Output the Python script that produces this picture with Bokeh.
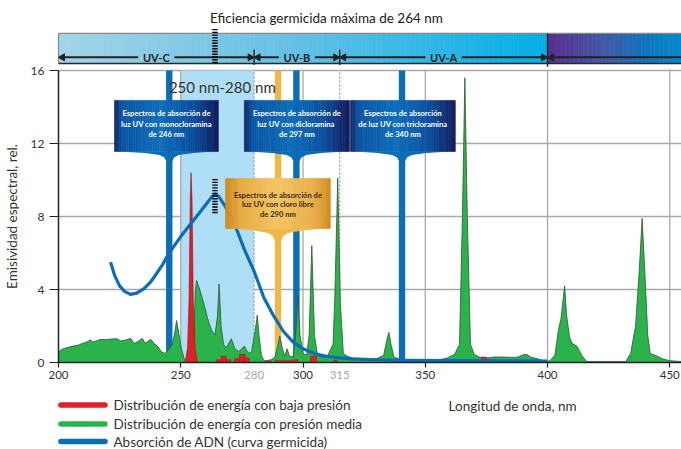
import numpy as np
from bokeh.plotting import figure
from bokeh.models import FixedTicker
from bokeh.core.properties import value
from bokeh.embed import file_html
from bokeh.resources import INLINE

# ---------------- data ----------------
green_nm = [200, 201, 203, 206, 208, 210, 212, 213, 214, 216, 217, 219, 221, 223, 224, 225.5, 227, 229.5,
            231, 232.5, 234.3, 235.5, 237.7, 239, 240.5, 242, 243.5, 245, 246.5, 247.5, 248.3, 249.2, 250.2,
            251.3, 252, 253, 255, 256, 256.5, 258, 259.5, 261, 262.5, 264, 265, 265.7, 266.5, 267.5, 268.5,
            270.7, 272, 273.5, 275, 276, 277, 278, 279, 280.5, 281.3, 282, 283, 284, 285, 287, 288.5, 289.5,
            290.5, 291.5, 292.5, 293.5, 294.5, 296, 297, 297.9, 298.8, 300, 301.5, 302.5, 303.6, 304.7, 306,
            308, 310, 312.3, 313, 314.2, 315.3, 316.5, 318, 320, 324, 330, 333, 334.2, 335.1, 336, 337.2, 340,
            345, 350, 355, 359, 362, 364, 365.2, 366.2, 367.2, 368.5, 370, 372, 375, 378, 382, 386, 388, 390,
            391.5, 393, 396, 399.5, 401, 403, 404.5, 405.5, 407, 407.8, 409, 410, 412, 414, 416, 432, 434, 436,
            437.5, 438.7, 439.8, 441, 442, 444, 447, 450, 454.8]
green_val = [0.55, 0.7, 0.8, 0.9, 0.95, 1.05, 1.15, 1.25, 1.12, 1.2, 1.27, 1.25, 1.28, 1.3, 1.3, 1.18, 1.22, 1.32,
             1.05, 1.15, 1.32, 1.05, 1.28, 1.05, 0.9, 0.6, 0.5, 0.7, 1.0, 1.6, 2.3, 1.6, 0.8,
             0.25, 0.1, 0.05, 0.5, 4.0, 4.5, 3.9, 3.2, 2.4, 1.8, 1.5, 2.5, 4.3, 2.0, 1.0, 0.8,
             1.3, 0.8, 0.6, 0.75, 0.9, 0.65, 0.5, 0.6, 1.8, 2.6, 1.5, 0.4, 0.1, 0.1, 0.15, 0.3, 0.8,
             1.45, 0.8, 0.35, 0.75, 0.35, 0.3, 1.5, 3.6, 1.5, 0.5, 0.4, 1.5, 6.4, 1.5, 0.35,
             0.3, 0.35, 1.0, 3.5, 10.1, 3.2, 0.5, 0.35, 0.25, 0.2, 0.2, 0.4, 1.2, 1.66, 1.0, 0.3, 0.15,
             0.1, 0.1, 0.12, 0.25, 0.45, 1.0, 8.0, 15.6, 8.0, 1.0, 0.45, 0.3, 0.25, 0.3, 0.3, 0.28, 0.3, 0.42,
             0.45, 0.3, 0.2, 0.05, 0.1, 0.4, 1.8, 2.4, 4.2, 2.6, 1.4, 1.05, 0.9, 0.4, 0.05, 0.05, 0.5, 2.0,
             5.0, 7.9, 5.0, 1.5, 0.5, 0.4, 0.2, 0.1, 0.05]

red_nm = [251.8, 252.8, 253.4, 253.9, 254.2, 254.6, 255.1, 255.8, 256.8]
red_val = [0.0, 0.8, 3.5, 9.0, 10.4, 9.0, 3.5, 0.8, 0.0]
red_blk_lo = [264.5, 266.5, 268.5, 272.0, 274.0, 276.3, 284.5, 288.5, 296.0, 303.0, 312.5, 373.0]
red_blk_hi = [266.5, 268.5, 270.5, 274.0, 276.3, 278.0, 287.0, 296.0, 298.0, 305.5, 314.0, 375.0]
red_blk_val = [0.15, 0.35, 0.15, 0.2, 0.45, 0.25, 0.08, 0.1, 0.15, 0.35, 0.12, 0.3]

germ_nm = [221.3, 223, 225, 227, 229.4, 232, 235, 237.6, 240, 242.5, 245, 250, 255, 260, 262.5, 264, 265.5,
           268, 272, 276, 280, 284, 288, 292, 296, 300, 305, 310, 315, 320, 330, 340, 360, 380, 400]
germ_val = [5.5, 4.75, 4.2, 3.9, 3.73, 3.8, 4.05, 4.4, 4.85, 5.35, 5.95, 6.9, 7.75, 8.6, 9.05, 9.22, 9.1,
            8.6, 7.6, 6.2, 5.0, 3.55, 2.55, 1.7, 1.12, 0.75, 0.48, 0.33, 0.25, 0.2, 0.15, 0.12, 0.1, 0.09, 0.08]

x_ticks = [200, 250, 300, 350, 400, 450]
extra_x_labels = [280, 315]
y_ticks = [0, 4, 8, 12, 16]
y_max = 16
band_edges = [200, 280, 315, 400]
band_names = ["UV-C", "UV-B", "UV-A"]
peak_nm = 264
window_nm = [250, 280]
window_label = "250 nm-280 nm"
bar_nm = [245.3, 289.8, 297.3, 340.5]
bar_kind = ["blue", "orange", "blue", "blue"]
callout_text = [
    ["Espectros de absorción de", "luz UV con monocloramina", "de 246 nm"],
    ["Espectros de absorción de", "luz  UV con dicloramina", "de 297 nm"],
    ["Espectros de absorción", "de luz UV con tricloramina", "de 340 nm"],
    ["Espectros de absorción de", "luz UV con cloro libre", "de 290 nm"],
]
title_text = "Eficiencia germicida máxima de 264 nm"
x_title = "Longitud de onda, nm"
y_title = "Emisividad espectral, rel."
legend_labels = ["Distribución de energía con baja presión",
                 "Distribución de energía con presión media",
                 "Absorción de ADN (curva germicida)"]

# ---------------- style helpers ----------------
FONT = "Lato"
BLUE = "#0b6db6"
ORANGE = "#efb846"
GREEN = "#2bb34b"
RED = "#e31e24"
X0 = 200
X_LO, X_END = 176.28, 454.8
Y_LO, Y_HI = -4.767, 19.836


def _rgb(h):
    return tuple(int(h[i:i + 2], 16) for i in (1, 3, 5))


def grad(stops, t):
    for (p0, c0), (p1, c1) in zip(stops[:-1], stops[1:]):
        if p0 <= t <= p1:
            f = 0 if p1 == p0 else (t - p0) / (p1 - p0)
            a, b = _rgb(c0), _rgb(c1)
            return "#%02x%02x%02x" % tuple(int(round(a[i] + (b[i] - a[i]) * f)) for i in range(3))
    return stops[-1][1]


def gradient_quads(p, x0, x1, y0, y1, stops, n):
    edges = np.linspace(x0, x1, n + 1)
    cols = [grad(stops, (i + 0.5) / n) for i in range(n)]
    p.quad(left=edges[:-1], right=edges[1:], bottom=y0, top=y1,
           fill_color=cols, line_color=cols, line_width=0.6)


def ladder(p, x, y0, y1, half=1.1, step=0.15):
    ys = np.arange(y0, y1 + 1e-9, step)
    p.segment(x0=x - half, y0=ys, x1=x + half, y1=ys, line_color="#000000", line_width=1.4)


# ---------------- figure ----------------
p = figure(width=681, height=449, x_range=(X_LO, X_END), y_range=(Y_LO, Y_HI),
           output_backend="svg", toolbar_location=None,
           min_border_left=0, min_border_right=0, min_border_top=0, min_border_bottom=0)
p.outline_line_color = None
p.background_fill_color = "white"
p.border_fill_color = "white"
p.xgrid.visible = False
p.ygrid.visible = False

p.yaxis.ticker = FixedTicker(ticks=y_ticks)
p.yaxis.bounds = (0, y_max)
p.yaxis.fixed_location = X0
p.yaxis.axis_label = y_title
p.xaxis.ticker = FixedTicker(ticks=x_ticks)
p.xaxis.bounds = (X0, X_END)
p.xaxis.fixed_location = 0
for ax in (p.xaxis[0], p.yaxis[0]):
    ax.axis_line_color = "#222222"
    ax.axis_line_width = 1.5
    ax.major_tick_line_color = "#222222"
    ax.major_tick_line_width = 1.2
    ax.major_tick_in = 0
    ax.minor_tick_line_color = None
    ax.major_label_text_font = FONT
    ax.major_label_text_color = "#333333"
    ax.axis_label_text_font = FONT
    ax.axis_label_text_font_style = "normal"
    ax.axis_label_text_color = "#333333"
p.yaxis.major_tick_out = 9
p.yaxis.major_label_standoff = 5
p.yaxis.major_label_text_font_size = "12px"
p.yaxis.axis_label_text_font_size = "13.5px"
p.yaxis.axis_label_standoff = 8
p.xaxis.major_tick_out = 5
p.xaxis.major_label_standoff = 3
p.xaxis.major_label_text_font_size = "11.5px"

# horizontal grid (only right of the y axis)
p.segment(x0=X0, y0=y_ticks[1:], x1=X_END, y1=y_ticks[1:], line_color="#a9a9a9", line_width=1.3)
# light blue 250-280 window
p.quad(left=[window_nm[0]], right=[window_nm[1]], bottom=0, top=y_max,
       fill_color="#afdff7", line_color=None)
# vertical grid
p.segment(x0=x_ticks[1:], y0=0, x1=x_ticks[1:], y1=y_max, line_color="#a9a9a9", line_width=1.3)
# band boundaries dotted
p.segment(x0=band_edges[1:3], y0=0, x1=band_edges[1:3], y1=y_max,
          line_color="#9a9a9a", line_width=1.2, line_dash="2 2")

# absorption bars
bar_col = [BLUE if k == "blue" else ORANGE for k in bar_kind]
p.vbar(x=bar_nm, width=2.6, bottom=0, top=y_max, fill_color=bar_col, line_color=None)

# medium pressure spectrum
p.varea(x=green_nm, y1=0, y2=green_val, fill_color=GREEN)
p.line(green_nm, green_val, line_color="#2d5535", line_width=0.8)
# low pressure spectrum
p.quad(left=red_blk_lo, right=red_blk_hi, bottom=0, top=red_blk_val,
       fill_color=RED, line_color="#9a1418", line_width=0.5)
p.varea(x=red_nm, y1=0, y2=red_val, fill_color=RED)
p.line(red_nm, red_val, line_color="#8a1015", line_width=0.6)
# germicidal curve
p.line(germ_nm, germ_val, line_color=BLUE, line_width=3.2, line_join="round")

# window label
p.text(x=[sum(window_nm) / 2 + 2], y=[15.1], text=[window_label], text_font=value(FONT),
       text_font_size="15px", text_color="#333333", text_align="center", text_baseline="middle")

# callouts
blue_stops = [(0, "#13235e"), (0.08, "#0a55a5"), (0.45, "#0c6eb9"), (0.75, "#0a4f9f"), (1, "#121b5c")]
orange_stops = [(0, "#cf891c"), (0.15, "#e8ab43"), (0.5, "#f4c565"), (0.85, "#e9ae49"), (1, "#d38b1d")]
boxes = [  # (bar index, left, right, bottom, top, kind)
    (0, 222.9, 265.4, 11.56, 14.36, "blue"),
    (2, 276.0, 319.0, 11.56, 14.36, "blue"),
    (3, 319.4, 362.3, 11.56, 14.36, "blue"),
    (1, 268.3, 311.2, 7.34, 10.08, "orange"),
]
for bi, (bidx, l, r, b, t, kind) in enumerate(boxes):
    c = bar_nm[bidx]
    k = 1.0 if kind == "blue" else 1.3
    xs = [l + 2.5, c - 10, c - 4, c - 2, c - 1.3, c + 1.3, c + 2, c + 4, c + 10, r - 2.5]
    ys = [b, b - 0.08 * k, b - 0.19 * k, b - 0.33 * k, b - 0.52 * k, b - 0.52 * k, b - 0.33 * k,
          b - 0.19 * k, b - 0.08 * k, b]
    ncol = BLUE if kind == "blue" else ORANGE
    p.patch(xs, ys, fill_color=ncol, line_color=None)
    gradient_quads(p, l, r, b, t, blue_stops if kind == "blue" else orange_stops, 44)
    offs = [0.71, 1.31, 1.86] if kind == "blue" else [0.88, 1.42, 1.97]
    p.text(x=[(l + r) / 2] * 3, y=[t - o for o in offs], text=callout_text[bi],
           text_font=value(FONT), text_font_style="bold", text_font_size="7.6px",
           text_color="white" if kind == "blue" else "#3a2a0e",
           text_align="center", text_baseline="middle")

# germicidal peak marker
ladder(p, peak_nm, 8.22, 10.14)

# ---------------- UV band ----------------
BB, BT, AY = 16.38, 18.03, 16.72
gradient_quads(p, band_edges[0], band_edges[-1], BB, BT,
               [(0, "#a4d4e7"), (0.5, "#62bfe4"), (1, "#02aee6")], 100)
gradient_quads(p, band_edges[-1], X_END, BB, BT,
               [(0, "#5b2c8e"), (0.45, "#3f5ba8"), (0.75, "#0c76bf"), (1, "#0a88cc")], 30)
p.segment(x0=[X0], y0=[BT], x1=[X_END], y1=[BT], line_color="#8a8a8a", line_width=1.2)
p.segment(x0=[X0], y0=[BB], x1=[X0], y1=[BT], line_color="#8a8a8a", line_width=1.2)
p.segment(x0=[X0], y0=[BB], x1=[X_END], y1=[BB], line_color="#2a2a2a", line_width=1.6)
p.segment(x0=[band_edges[-1]], y0=[16.2], x1=[band_edges[-1]], y1=[BT], line_color="#222222", line_width=1.4)
p.segment(x0=band_edges[1:3], y0=16.3, x1=band_edges[1:3], y1=17.15, line_color="#222222", line_width=1.4)

# arrows with gaps for names
gap = 7.4
seg_x0, seg_x1 = [], []
for i, nm in enumerate(band_names):
    a, b = band_edges[i], band_edges[i + 1]
    m = (a + b) / 2
    seg_x0 += [a + 0.5, m + gap]
    seg_x1 += [m - gap, b - 0.5]
seg_x0.append(band_edges[-1] + 0.5)
seg_x1.append(X_END)
p.segment(x0=seg_x0, y0=AY, x1=seg_x1, y1=AY, line_color="#222222", line_width=2)
left_heads = [e + 1.6 for e in band_edges]
right_heads = [e - 1.6 for e in band_edges[1:]]
p.scatter(x=left_heads, y=AY, marker="triangle", size=7, angle=np.pi / 2,
          fill_color="#222222", line_color="#222222")
p.scatter(x=right_heads, y=AY, marker="triangle", size=7, angle=-np.pi / 2,
          fill_color="#222222", line_color="#222222")
p.text(x=[(band_edges[i] + band_edges[i + 1]) / 2 for i in range(3)], y=AY, text=band_names,
       text_font=value(FONT), text_font_style="bold", text_font_size="11px", text_color="#222222",
       text_align="center", text_baseline="middle")

# top marker and title
ladder(p, peak_nm, 16.44, 18.3)
p.text(x=[309.6], y=[18.85], text=[title_text], text_font=value(FONT), text_font_size="13.5px",
       text_color="#222222", text_align="center", text_baseline="middle")

# ---------------- below the axis ----------------
p.text(x=extra_x_labels, y=-0.44, text=[str(v) for v in extra_x_labels], text_font=value(FONT),
       text_font_size="11.5px", text_color="#a8a8a8", text_align="center", text_baseline="top")
p.text(x=[385.7], y=[-2.38], text=[x_title], text_font=value(FONT), text_font_size="13.5px",
       text_color="#333333", text_align="center", text_baseline="middle")

leg_cols = [RED, GREEN, BLUE]
leg_y = [-2.33, -3.37, -4.33]
p.segment(x0=201.0, y0=leg_y, x1=219.0, y1=leg_y, line_color=leg_cols, line_width=5.5,
          line_cap="round")
p.text(x=222.5, y=leg_y, text=legend_labels, text_font=value(FONT), text_font_size="13.5px",
       text_color="#333333", text_align="left", text_baseline="middle")

open("out.html", "w").write(file_html(p, INLINE))
